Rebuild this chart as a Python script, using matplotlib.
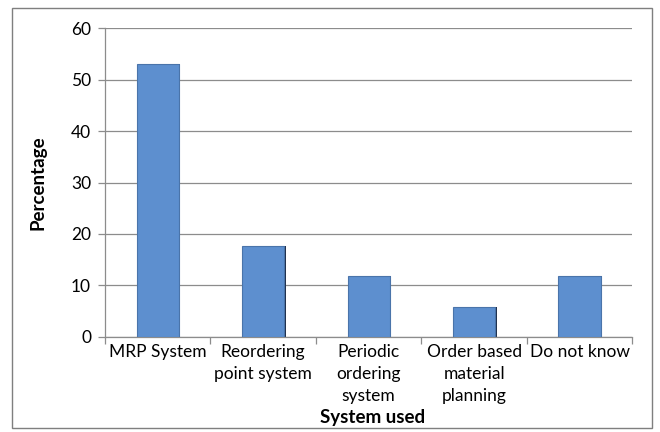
import matplotlib
matplotlib.use("Agg")
import matplotlib.pyplot as plt
import matplotlib.transforms as mtransforms
from matplotlib.patches import Rectangle

plt.rcParams['font.family'] = ['Lato', 'DejaVu Sans']

categories = ["MRP System", "Reordering\npoint system", "Periodic\nordering\nsystem",
              "Order based\nmaterial\nplanning", "Do not know"]
percentages = [53.0, 17.6, 11.8, 5.9, 11.8]
y_ticks = [0, 10, 20, 30, 40, 50, 60]

fig = plt.figure(figsize=(6.6, 4.32), dpi=100)
ax = fig.add_axes([0.159, 0.22, 0.799, 0.715])

# outer chart border
fig.patches.append(Rectangle((0.018, 0.009), 0.970, 0.972, transform=fig.transFigure,
                             fill=False, edgecolor='#7f7f7f', linewidth=1.0))

x = list(range(len(categories)))
shadow = mtransforms.ScaledTranslation(1.6 / 100, 0, fig.dpi_scale_trans)
ax.bar(x, percentages, width=0.4, color='#1f2f4a', zorder=2,
       transform=ax.transData + shadow)
ax.bar(x, percentages, width=0.4, color='#5d8fcf', edgecolor='#4a74aa',
       linewidth=0.8, zorder=3)

ax.set_xlim(-0.5, len(categories) - 0.5)
ax.set_ylim(0, 60)
ax.set_yticks(y_ticks)
ax.yaxis.grid(True, color='#8c8c8c', linewidth=0.9)
ax.set_axisbelow(True)

ax.set_xticks(x)
ax.set_xticklabels(categories, fontsize=12.5, linespacing=1.45)
ax.set_xticks([i - 0.5 for i in range(len(categories) + 1)], minor=True)
ax.tick_params(axis='x', which='major', length=0, pad=5)
ax.tick_params(axis='x', which='minor', length=5, color='#8c8c8c', width=0.9)
ax.tick_params(axis='y', length=5, color='#8c8c8c', width=0.9, labelsize=12.5, pad=5)

for side in ('top', 'right'):
    ax.spines[side].set_visible(False)
for side in ('left', 'bottom'):
    ax.spines[side].set_color('#8c8c8c')
    ax.spines[side].set_linewidth(0.9)

ax.set_ylabel("Percentage", fontsize=13.5, fontweight='bold', va='center')
ax.set_xlabel("System used", fontsize=13.5, fontweight='bold', va='center')
ax.yaxis.set_label_coords(-0.127, 0.5)
ax.xaxis.set_label_coords(0.508, -0.262)

fig.savefig("out.png", dpi=100)
